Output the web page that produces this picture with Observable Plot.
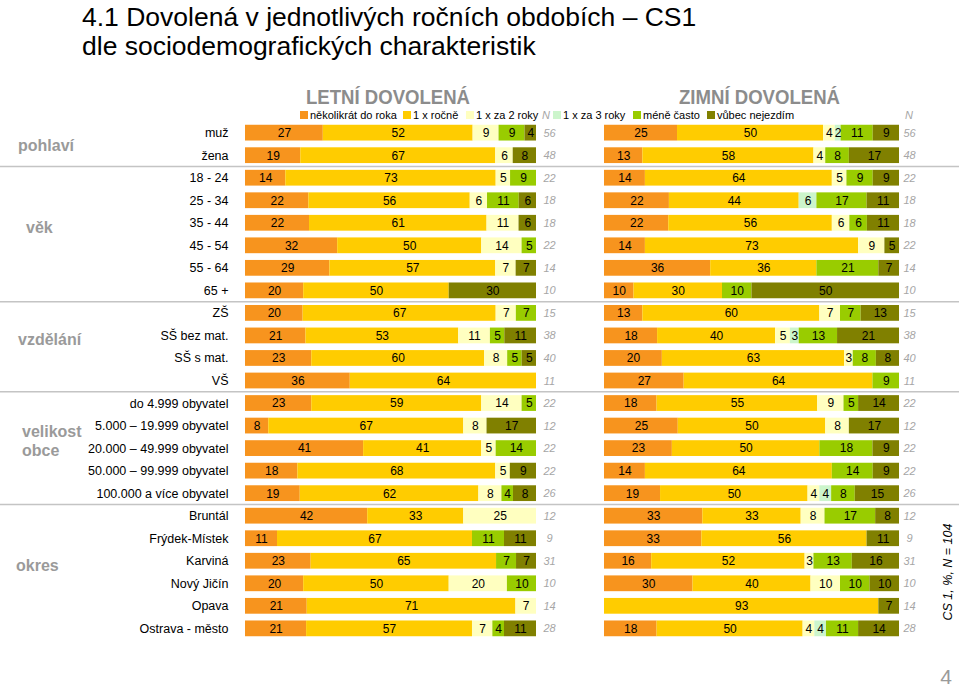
<!DOCTYPE html>
<html><head><meta charset="utf-8">
<script src="https://cdn.jsdelivr.net/npm/d3@7"></script>
<script src="https://cdn.jsdelivr.net/npm/@observablehq/plot@0.6"></script>
<style>
body{margin:0;background:#fff;font-family:Arial,"Liberation Sans",sans-serif;}
#root{position:relative;width:959px;height:689px;overflow:hidden;background:#fff;}
#root svg{position:absolute;}
</style></head><body><div id="root"></div>
<script>
// ---------- DATA ----------
const rows = ["muž","žena","18 - 24","25 - 34","35 - 44","45 - 54","55 - 64","65 +",
  "ZŠ","SŠ bez mat.","SŠ s mat.","VŠ",
  "do 4.999 obyvatel","5.000 – 19.999 obyvatel","20.000 – 49.999 obyvatel","50.000 – 99.999 obyvatel","100.000 a více obyvatel",
  "Bruntál","Frýdek-Místek","Karviná","Nový Jičín","Opava","Ostrava - město"];
const groupNames = [["pohlaví"],["věk"],["vzdělání"],["velikost","obce"],["okres"]];
const groupStarts = [0,2,8,12,17];
const cats = ["několikrát do roka","1 x ročně","1 x za 2 roky","1 x za 3 roky","méně často","vůbec nejezdím"];
const colors = ["#F7941E","#FFCC00","#FFFFC0","#CCF5CC","#99CC00","#808000"];
const nValues = [56,48,22,18,18,22,14,10,15,38,40,11,22,12,22,22,26,12,9,31,10,14,28];

// LETNÍ DOVOLENÁ
const sumSeveral = [27,19,14,22,22,32,29,20,20,21,23,36,23,8,41,18,19,42,11,23,20,21,21];
const sumYearly  = [52,67,73,56,61,50,57,50,67,53,60,64,59,67,41,68,62,33,67,65,50,71,57];
const sumTwo     = [9,6,5,6,11,14,7,0,7,11,8,0,14,8,5,5,8,25,0,0,20,7,7];
const sumThree   = [0,0,0,0,0,0,0,0,0,0,0,0,0,0,0,0,0,0,0,0,0,0,0];
const sumLess    = [9,0,9,11,0,5,0,0,7,5,5,0,5,0,14,0,4,0,11,7,10,0,4];
const sumNever   = [4,8,0,6,6,0,7,30,0,11,5,0,0,17,0,9,8,0,11,7,0,0,11];

// ZIMNÍ DOVOLENÁ
const winSeveral = [25,13,14,22,22,14,36,10,13,18,20,27,18,25,23,14,19,33,33,16,30,0,18];
const winYearly  = [50,58,64,44,56,73,36,30,60,40,63,64,55,50,50,64,50,33,56,52,40,93,50];
const winTwo     = [4,4,5,0,6,9,0,0,7,5,3,0,9,8,0,0,4,8,0,3,10,0,4];
const winThree   = [2,0,0,6,0,0,0,0,0,3,0,0,0,0,0,0,4,0,0,0,0,0,4];
const winLess    = [11,8,9,17,6,0,21,10,7,13,8,9,5,0,18,14,8,17,0,13,10,0,11];
const winNever   = [9,17,9,11,11,5,7,50,13,21,8,0,14,17,9,9,15,8,11,16,10,7,14];

// ---------- BUILD ----------
function tidy(series){
  const out=[];
  rows.forEach((r,i)=>cats.forEach((c,j)=>{const v=series[j][i]; if(v>0) out.push({row:r,cat:c,value:v});}));
  return out;
}
const dataL = tidy([sumSeveral,sumYearly,sumTwo,sumThree,sumLess,sumNever]);
const dataR = tidy([winSeveral,winYearly,winTwo,winThree,winLess,winNever]);
const FONT = "Arial, 'Liberation Sans', sans-serif";
const TOP = 118, H = 525;

function panel(data, opts){
  const marks = [
    Plot.barX(data, Plot.stackX({offset:"normalize", x:"value", y:"row", fill:"cat"})),
    Plot.text(data, Plot.stackX({offset:"normalize", x:"value", y:"row", z:"cat", text:"value", fill:"#000", fontSize:12})),
    Plot.text(nValues, {x:()=>1, y:(d,i)=>rows[i], text:d=>String(d), dx:opts.nDx, fill:"#a6a6a6", fontStyle:"italic", fontSize:11})
  ];
  if (opts.axis) marks.push(Plot.axisY({tickSize:0, tickPadding:17, fontSize:12.5, label:null, fill:"#000"}));
  return Plot.plot({
    width:opts.width, height:H, marginLeft:opts.ml, marginRight:opts.mr, marginTop:0, marginBottom:0,
    style:{fontFamily:FONT, fontSize:"12px", background:"transparent", overflow:"visible"},
    x:{domain:[0,1], axis:null},
    y:{domain:rows, padding:0.3, round:false, axis: opts.axis ? undefined : null},
    color:{domain:cats, range:colors},
    marks
  });
}
const root = document.getElementById("root");
const left = panel(dataL, {width:570, ml:245, mr:34, nDx:13, axis:true});
const right = panel(dataR, {width:389, ml:34, mr:60, nDx:10, axis:false});
left.style.left="0px"; left.style.top=TOP+"px";
right.style.left="570px"; right.style.top=TOP+"px";
root.appendChild(left); root.appendChild(right);

// ---------- DECORATIONS ----------
const ys = left.scale("y");
const rowTop = r => TOP + ys.apply(r);
const gap = (ys.step - ys.bandwidth)/2;
const svg = d3.select(root).append("svg").attr("width",959).attr("height",689)
  .style("left","0px").style("top","0px").style("pointer-events","none")
  .attr("font-family", FONT);

// title
svg.append("text").attr("x",82).attr("y",26).attr("font-size",26.5).attr("fill","#000")
  .text("4.1 Dovolená v jednotlivých ročních obdobích – CS1");
svg.append("text").attr("x",82).attr("y",55).attr("font-size",26.5).attr("fill","#000")
  .text("dle sociodemografických charakteristik");

// headings
svg.append("text").attr("x",306).attr("y",104).attr("font-size",21).attr("font-weight","bold")
  .attr("fill","#8c8c8c").attr("textLength",164).attr("lengthAdjust","spacingAndGlyphs").text("LETNÍ DOVOLENÁ");
svg.append("text").attr("x",679).attr("y",104).attr("font-size",21).attr("font-weight","bold")
  .attr("fill","#8c8c8c").attr("textLength",161).attr("lengthAdjust","spacingAndGlyphs").text("ZIMNÍ DOVOLENÁ");

// legend
const legX = [300,403,466,553,633,707];
cats.forEach((c,i)=>{
  svg.append("rect").attr("x",legX[i]).attr("y",111).attr("width",8).attr("height",8).attr("fill",colors[i]);
  svg.append("text").attr("x",legX[i]+10).attr("y",119).attr("font-size",11).attr("fill","#000").text(c);
});
svg.append("text").attr("x",546).attr("y",119).attr("font-size",11).attr("font-style","italic")
  .attr("fill","#a6a6a6").attr("text-anchor","middle").text("N");
svg.append("text").attr("x",909).attr("y",119).attr("font-size",11).attr("font-style","italic")
  .attr("fill","#a6a6a6").attr("text-anchor","middle").text("N");

// separators
groupStarts.slice(1).forEach(gi=>{
  const y = rowTop(rows[gi]) - gap;
  svg.append("line").attr("x1",0).attr("x2",959).attr("y1",y).attr("y2",y)
    .attr("stroke","#c4c4c4").attr("stroke-width",1.5);
});

// group labels
const groupX = [18,26,18,22,16];
const groupDy = [1,-7,-7,-7,-7];
groupNames.forEach((lines,g)=>{
  const a = groupStarts[g], b = (groupStarts[g+1] ?? rows.length) - 1;
  const mid = (rowTop(rows[a]) + rowTop(rows[b]) + ys.bandwidth)/2 + groupDy[g];
  const lh = 19;
  lines.forEach((t,k)=>{
    svg.append("text").attr("x",groupX[g]).attr("y", mid + (k-(lines.length-1)/2)*lh)
      .attr("dy","0.35em").attr("font-size",16).attr("font-weight","bold").attr("fill","#9a9a9a").text(t);
  });
});

// side note and page number
svg.append("text").attr("transform","translate(952,572) rotate(-90)").attr("text-anchor","middle")
  .attr("font-size",12.5).attr("font-style","italic").attr("fill","#000").text("CS 1, %, N = 104");
svg.append("text").attr("x",946).attr("y",684).attr("text-anchor","middle")
  .attr("font-size",21).attr("fill","#9a9a9a").text("4");
</script></body></html>
